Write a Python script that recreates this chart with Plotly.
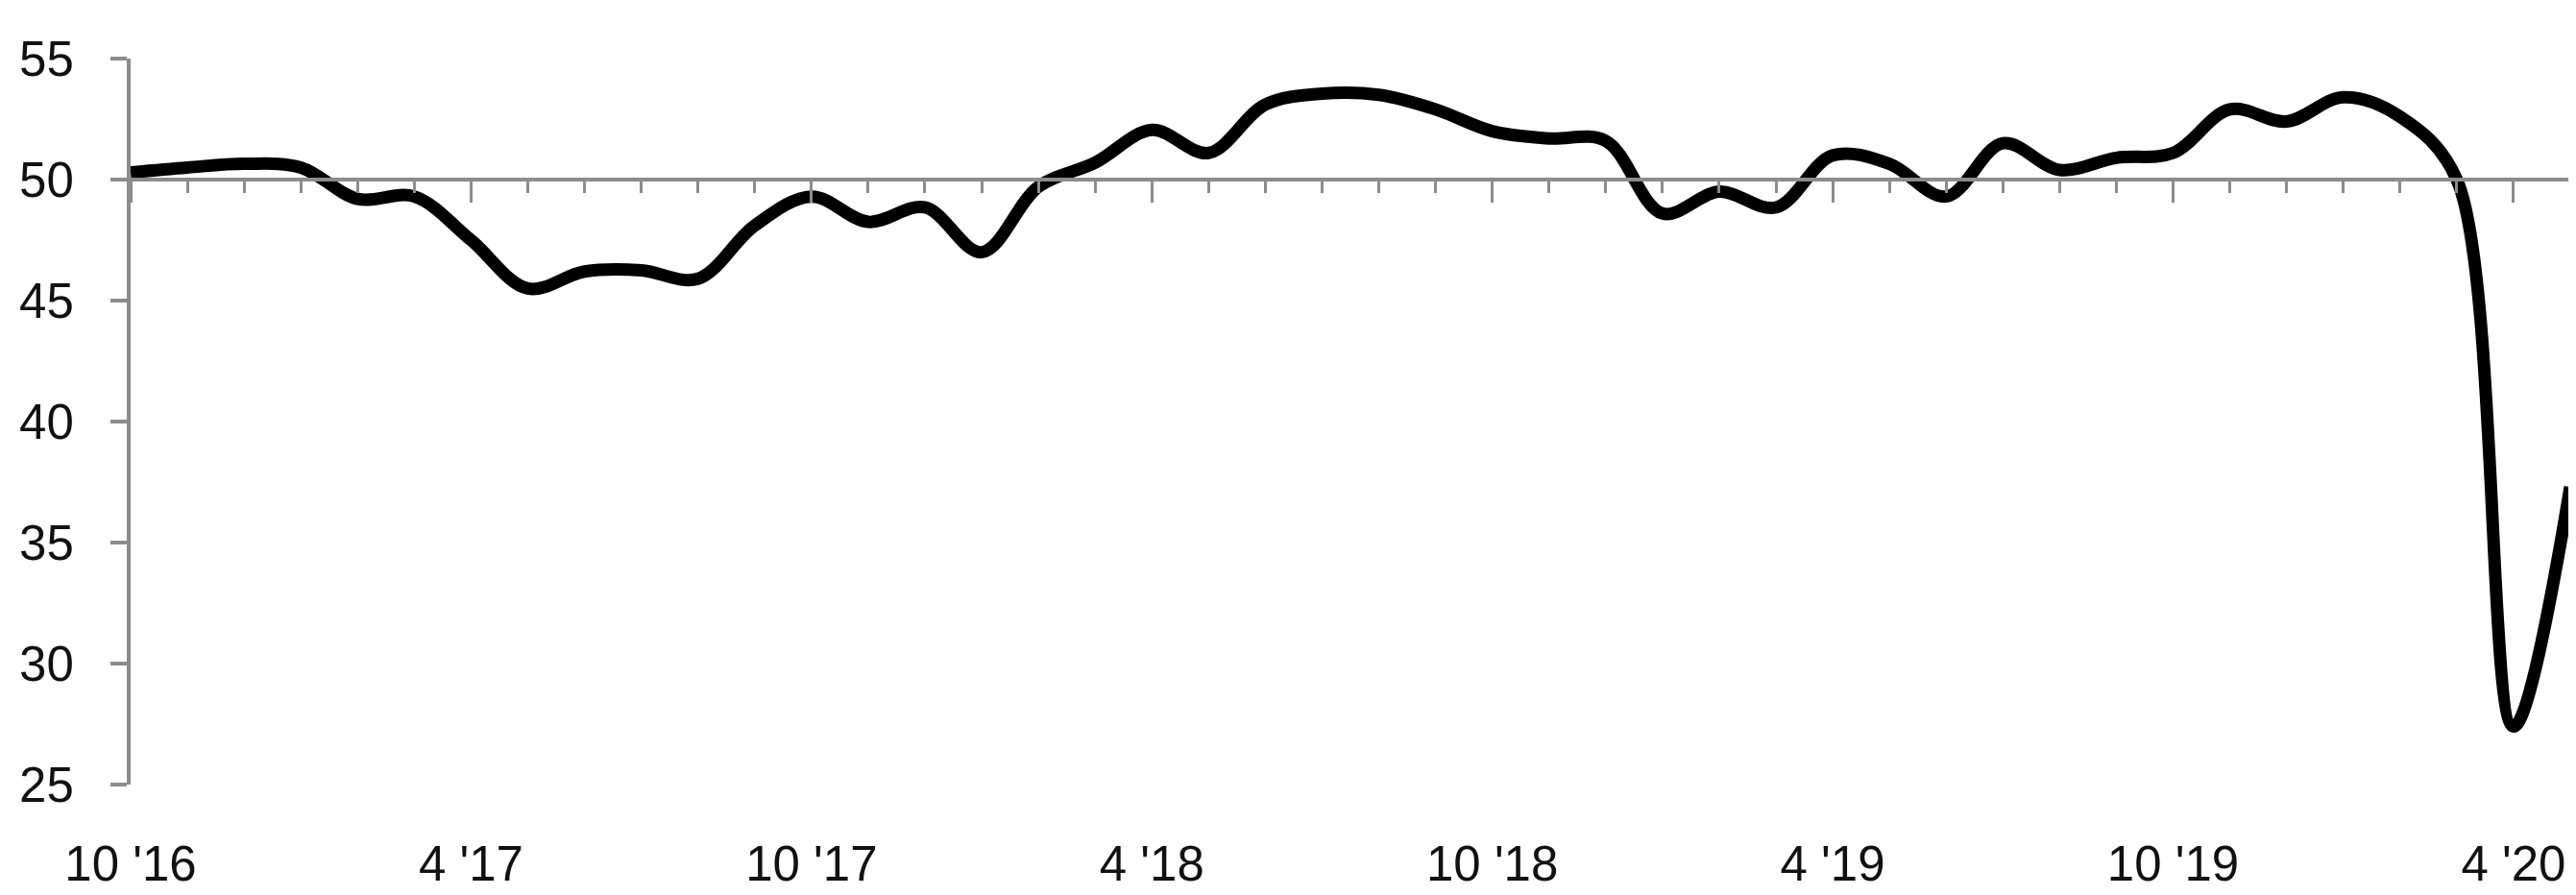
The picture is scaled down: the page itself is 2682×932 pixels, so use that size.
import plotly.graph_objects as go
import pandas as pd

# Monthly categories, Oct 2016 .. May 2020
months = pd.period_range("2016-10", "2020-05", freq="M").strftime("%Y-%m").tolist()

values = [50.3, 50.5, 50.65, 50.5, 49.2, 49.3, 47.5, 45.5, 46.2, 46.25,
          45.9, 48.1, 49.3, 48.25, 48.85, 47.0, 49.7, 50.7, 52.05, 51.1,
          53.1, 53.55, 53.5, 52.9, 52.0, 51.7, 51.6, 48.6, 49.5, 48.85,
          51.0, 50.65, 49.3, 51.5, 50.4, 50.9, 51.1, 52.9, 52.4, 53.4,
          52.6, 50.0, 27.4, 37.3]

tick_months = ["2016-10", "2017-04", "2017-10", "2018-04", "2018-10",
               "2019-04", "2019-10", "2020-04"]
tick_labels = ["10 '16", "4 '17", "10 '17", "4 '18", "10 '18",
               "4 '19", "10 '19", "4 '20"]

y_ticks = [25, 30, 35, 40, 45, 50, 55]
y_min, y_max = 25, 55
baseline = 50

x = list(range(len(months)))
tick_idx = [months.index(m) for m in tick_months]

FONT = "Liberation Sans, Arial, sans-serif"
GRAY = "#8c8c8c"
TXT = "#111111"

fig = go.Figure()
fig.add_trace(go.Scatter(
    x=x, y=values, mode="lines",
    line=dict(color="black", width=13, shape="spline", smoothing=1.0),
    showlegend=False, hoverinfo="skip",
))

fig.update_layout(
    width=2682, height=932,
    margin=dict(l=127, r=14, t=53, b=105),
    paper_bgcolor="white", plot_bgcolor="white",
    font=dict(family=FONT, size=51, color=TXT),
    xaxis=dict(
        range=[0, len(months) - 1],
        showgrid=False, zeroline=False, showline=False,
        tickmode="array", tickvals=tick_idx, ticktext=tick_labels,
        ticks="", ticklabelstandoff=48,
        tickfont=dict(family=FONT, size=51, color=TXT),
    ),
    xaxis2=dict(
        overlaying="x", matches="x", anchor="free",
        position=(baseline - y_min) / (y_max - y_min),
        showgrid=False, zeroline=False,
        showline=True, linecolor=GRAY, linewidth=4,
        tickmode="array", tickvals=tick_idx,
        ticks="outside", ticklen=22, tickwidth=3, tickcolor=GRAY,
        showticklabels=False,
        minor=dict(tickmode="linear", tick0=0, dtick=1, ticks="outside",
                   ticklen=12, tickwidth=3, tickcolor=GRAY),
    ),
    yaxis=dict(
        range=[y_min, y_max],
        tickmode="array", tickvals=y_ticks,
        showgrid=False, zeroline=False,
        showline=True, linecolor=GRAY, linewidth=4,
        ticks="outside", ticklen=17, tickwidth=4, tickcolor=GRAY,
        ticklabelstandoff=28,
        tickfont=dict(family=FONT, size=51, color=TXT),
    ),
)

# invisible helper trace so the baseline axis (xaxis2) is rendered
fig.add_trace(go.Scatter(x=[x[0]], y=[values[0]], xaxis="x2", mode="markers",
                         marker=dict(opacity=0), showlegend=False,
                         hoverinfo="skip"))

fig.write_html("out.html")
